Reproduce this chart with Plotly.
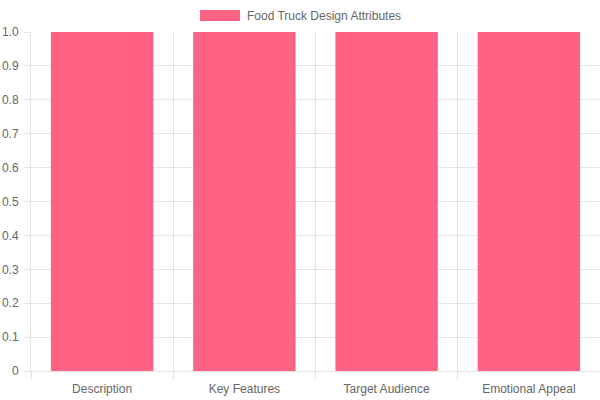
import plotly.graph_objects as go

# chart data
categories = ["Description", "Key Features", "Target Audience", "Emotional Appeal"]
values = [1, 1, 1, 1]
series_name = "Food Truck Design Attributes"
y_ticks = [0, 0.1, 0.2, 0.3, 0.4, 0.5, 0.6, 0.7, 0.8, 0.9, 1.0]
y_tick_labels = ["0", "0.1", "0.2", "0.3", "0.4", "0.5", "0.6", "0.7", "0.8", "0.9", "1.0"]

BAR_COLOR = "#ff6384"
GRID = "rgba(0,0,0,0.1)"
FONT = dict(family="Liberation Sans, Arial, sans-serif", size=12, color="#666666")

fig = go.Figure()
fig.add_trace(go.Bar(x=categories, y=values, name=series_name,
                     marker=dict(color=BAR_COLOR, line=dict(width=0))))

fig.update_layout(
    width=600, height=400,
    margin=dict(l=31, r=0, t=32, b=29, autoexpand=False),
    plot_bgcolor="white", paper_bgcolor="white",
    font=FONT,
    showlegend=False,
    bargap=0.28,
)

fig.update_xaxes(
    tickson="boundaries", ticks="outside", ticklen=8, tickcolor=GRID,
    ticklabelstandoff=7,
    showgrid=True, gridcolor=GRID, gridwidth=1,
    showline=True, linecolor=GRID, zeroline=False,
    range=[-0.5, 3.5],
)
fig.update_yaxes(
    range=[0, 1], tickvals=y_ticks, ticktext=y_tick_labels,
    ticks="outside", ticklen=6, tickcolor=GRID,
    ticklabelstandoff=3,
    showgrid=True, gridcolor=GRID, gridwidth=1,
    showline=True, linecolor=GRID, zeroline=False,
)

# legend drawn like the chart.js box + label (page px -> paper coords)
PX0, PW, PY0, PH = 31, 569, 371, 339
fig.add_shape(type="rect", xref="paper", yref="paper",
              x0=(200 - PX0) / PW, x1=(240 - PX0) / PW,
              y0=(PY0 - 21) / PH, y1=(PY0 - 10) / PH,
              fillcolor=BAR_COLOR, line=dict(width=0))
fig.add_annotation(xref="paper", yref="paper",
                   x=(245 - PX0) / PW, y=(PY0 - 15.5) / PH,
                   xanchor="left", yanchor="middle", showarrow=False,
                   text=series_name, font=FONT)

# drop the default 8px body margin so the figure fills the window
fig.write_html("out.html", config={"displayModeBar": False},
               post_script="document.body.style.margin = '0';")
